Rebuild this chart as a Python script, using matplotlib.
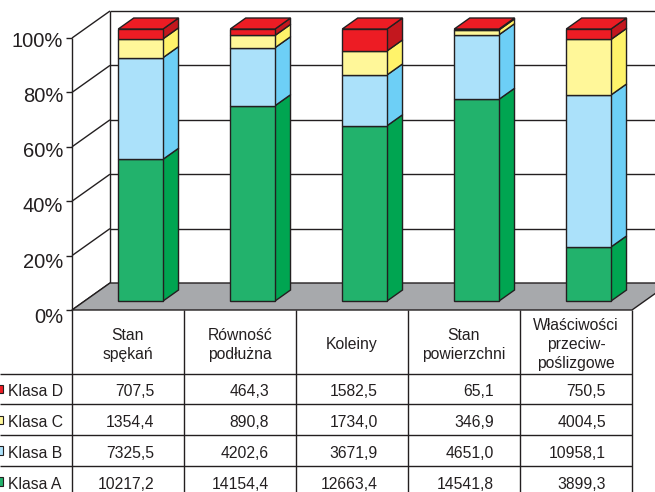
import numpy as np
import matplotlib
matplotlib.use("Agg")
import matplotlib.pyplot as plt
from matplotlib.patches import Polygon, Rectangle

plt.rcParams['font.family'] = ['Liberation Sans', 'DejaVu Sans']

# ---------------- data ----------------
categories = ["Stan\nspękań", "Równość\npodłużna", "Koleiny",
              "Stan\npowierzchni", "Właściwości\nprzeciw-\npoślizgowe"]
series_labels = ["Klasa A", "Klasa B", "Klasa C", "Klasa D"]
klasa_a = [10217.2, 14154.4, 12663.4, 14541.8, 3899.3]
klasa_b = [7325.5, 4202.6, 3671.9, 4651.0, 10958.1]
klasa_c = [1354.4, 890.8, 1734.0, 346.9, 4004.5]
klasa_d = [707.5, 464.3, 1582.5, 65.1, 750.5]
y_ticks = [0, 20, 40, 60, 80, 100]
y_tick_labels = ["0%", "20%", "40%", "60%", "80%", "100%"]

# ---------------- style ----------------
front_colors = ["#22b26c", "#abe1fa", "#fff799", "#ed1c24"]
side_colors = ["#00a551", "#6dcff6", "#fff36a", "#c3171e"]
INK = "#231f20"
FLOOR = "#a7a9ac"
TFS = 11.3

W, H = 655, 492
fig = plt.figure(figsize=(W / 100, H / 100), dpi=100)
ax = fig.add_axes([72 / W, (H - 310) / H, 560 / W, 272 / H])
n = len(categories)
ax.set_xlim(-0.5, n - 0.5)
ax.set_ylim(0, 100)
ax.axis('off')

ov = fig.add_axes([0, 0, 1, 1], zorder=5)
ov.set_xlim(0, W)
ov.set_ylim(H, 0)
ov.axis('off')

DX, DY = 38, 27      # full depth of the 3D box in pixels
F1, F2 = 1 / 3, 0.74  # bar front / back depth fraction
BW = 0.2              # half bar width (category units)


def P(x, y, f=0.0):
    dx, dy = ax.transData.transform((x, y))
    return (dx + DX * f, H - dy - DY * f)


def line(a, b, lw=1.0, color=INK, z=2):
    ov.plot([a[0], b[0]], [a[1], b[1]], color=color, lw=lw, zorder=z,
            solid_capstyle='butt')


series = np.array([klasa_a, klasa_b, klasa_c, klasa_d])
pct = series / series.sum(axis=0) * 100
cum = np.vstack([np.zeros(n), np.cumsum(pct, axis=0)])

x0, x1 = -0.5, n - 0.5

# walls & gridlines
for p, lab in zip(y_ticks, y_tick_labels):
    a = P(x0, p, 0)
    b = P(x0, p, 1)
    line(a, b)
    if p > 0:
        line(b, (W + 50, b[1]))
    line((a[0] - 6, a[1]), a)
    ov.text(a[0] - 9, a[1] + 1.5 + 4 * (1 - p / 100) + 7.2, lab,
            ha='right', va='baseline', fontsize=14.5, color=INK)
line(P(x0, 0, 1), P(x0, 100, 1))
line(P(x0, 0, 0), P(x0, 100, 0))

# floor
ov.add_patch(Polygon([P(x0, 0, 0), P(x1, 0, 0), P(x1, 0, 1), P(x0, 0, 1)],
                     closed=True, facecolor=FLOOR, edgecolor=INK, lw=1.0, zorder=3))

# bars
for i in range(n):
    for k in range(len(series)):
        y0, y1 = cum[k, i], cum[k + 1, i]
        front = [P(i - BW, y0, F1), P(i + BW, y0, F1), P(i + BW, y1, F1), P(i - BW, y1, F1)]
        side = [P(i + BW, y0, F1), P(i + BW, y0, F2), P(i + BW, y1, F2), P(i + BW, y1, F1)]
        ov.add_patch(Polygon(side, closed=True, facecolor=side_colors[k], edgecolor=INK,
                             lw=1.0, joinstyle='miter', zorder=4))
        ov.add_patch(Polygon(front, closed=True, facecolor=front_colors[k], edgecolor=INK,
                             lw=1.0, joinstyle='miter', zorder=4))
    top = [P(i - BW, 100, F1), P(i + BW, 100, F1), P(i + BW, 100, F2), P(i - BW, 100, F2)]
    ov.add_patch(Polygon(top, closed=True, facecolor=front_colors[-1], edgecolor=INK,
                         lw=1.0, joinstyle='miter', zorder=4))

# table
col_edges = [P(i - 0.5, 0, 0)[0] for i in range(n + 1)]
top_y = P(0, 0, 0)[1]
header_bottom = 373.5
row_h = 30.9
for c in col_edges:
    line((c, top_y), (c, H + 10))
for k in range(5):
    y = header_bottom + k * row_h
    line((0, y), (col_edges[-1], y))

header_mid = 349
for i, cat in enumerate(categories):
    parts = cat.split("\n")
    cx = (col_edges[i] + col_edges[i + 1]) / 2
    for j, s in enumerate(parts):
        yb = header_mid + (j - (len(parts) - 1) / 2) * 19
        ov.text(cx, yb, s, ha='center', va='baseline', fontsize=TFS, color=INK)

value_right_pad = [30, 27, 30, 26, 26]
row_order = [3, 2, 1, 0]
for r, k in enumerate(row_order):
    yc = header_bottom + (r + 0.5) * row_h
    ov.add_patch(Rectangle((-5, yc - 4.3), 8.0, 8.5, facecolor=front_colors[k],
                           edgecolor=INK, lw=0.8, zorder=6, clip_on=False))
    ov.text(8, yc + 7.0, series_labels[k], ha='left', va='baseline', fontsize=TFS, color=INK)
    for i in range(n):
        txt = f"{series[k, i]:.1f}".replace(".", ",")
        ov.text(col_edges[i + 1] - value_right_pad[i], yc + 7.0, txt,
                ha='right', va='baseline', fontsize=TFS, color=INK)

fig.savefig("out.png", dpi=100, facecolor="white")
